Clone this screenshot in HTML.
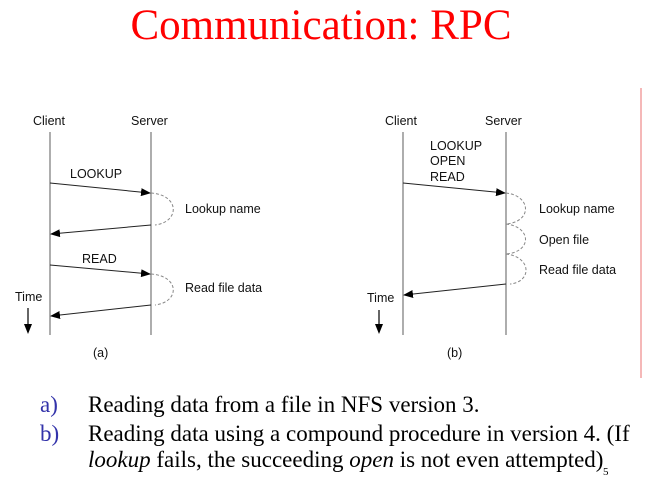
<!DOCTYPE html>
<html><head><style>
body{margin:0;width:662px;height:479px;background:#fff;overflow:hidden;position:relative;font-family:"Liberation Serif",serif}
.t{position:absolute;white-space:nowrap}
</style></head><body>
<div class="t" style="left:0;width:642px;text-align:center;top:1px;font-size:43px;line-height:50px;color:#f00">Communication: RPC</div>
<svg width="662" height="479" style="position:absolute;left:0;top:0" font-family="Liberation Sans, sans-serif" font-size="12.5" fill="#111">
<defs><marker id="a" markerWidth="10" markerHeight="8" refX="9" refY="4" orient="auto" markerUnits="userSpaceOnUse"><path d="M0,0 L10,4 L0,8 z" fill="#000"/></marker></defs>
<line x1="641" y1="88" x2="641" y2="378" stroke="#f2a0a0" stroke-width="1.5"/>
<g stroke="#777" stroke-width="1.2">
<line x1="50" y1="132" x2="50" y2="335"/><line x1="151" y1="132" x2="151" y2="335"/>
<line x1="403" y1="132" x2="403" y2="335"/><line x1="506" y1="132" x2="506" y2="335"/>
</g>
<g stroke="#222" stroke-width="1" fill="none" marker-end="url(#a)">
<line x1="50" y1="183" x2="150" y2="193"/>
<line x1="151" y1="225" x2="51" y2="234"/>
<line x1="50" y1="265" x2="150" y2="274"/>
<line x1="151" y1="305" x2="51" y2="316"/>
<line x1="403" y1="183" x2="505" y2="193"/>
<line x1="506" y1="284" x2="404" y2="295"/>
</g>
<g stroke="#888" stroke-width="1" fill="none" stroke-dasharray="3,2">
<path d="M151,193 C180,195 180,222 155,225"/>
<path d="M151,274 C180,276 180,302 155,305"/>
<path d="M506,193 C532,196 532,222 506,224"/>
<path d="M506,224 C532,227 532,252 506,254"/>
<path d="M506,254 C532,257 532,282 510,284"/>
</g>
<g stroke="#000" stroke-width="1.2"><line x1="28" y1="308" x2="28" y2="325"/><line x1="379" y1="310" x2="379" y2="325"/></g>
<path d="M24,324 L32,324 L28,334 z M375,324 L383,324 L379,334 z" fill="#000"/>
<text x="33" y="125">Client</text><text x="131" y="125">Server</text>
<text x="70" y="178">LOOKUP</text><text x="82" y="263">READ</text>
<text x="185" y="213">Lookup name</text><text x="185" y="292">Read file data</text>
<text x="15" y="301">Time</text><text x="93" y="357">(a)</text>
<text x="385" y="125">Client</text><text x="485" y="125">Server</text>
<text x="430" y="150">LOOKUP</text><text x="430" y="165">OPEN</text><text x="430" y="181">READ</text>
<text x="539" y="213">Lookup name</text><text x="539" y="244">Open file</text><text x="539" y="274">Read file data</text>
<text x="367" y="302">Time</text><text x="447" y="357">(b)</text>
</svg>
<div class="t" style="left:40px;top:392px;font-size:23px;line-height:26px;color:#3333aa">a)</div>
<div class="t" style="left:88px;top:392px;font-size:23px;line-height:26px">Reading data from a file in NFS version 3.</div>
<div class="t" style="left:40px;top:421px;font-size:23px;line-height:26px;color:#3333aa">b)</div>
<div class="t" style="left:88px;top:421px;font-size:23px;line-height:26px">Reading data using a compound procedure in version 4. (If</div>
<div class="t" style="left:88px;top:447px;font-size:23px;line-height:26px"><i>lookup</i> fails, the succeeding <i>open</i> is not even attempted)</div>
<div class="t" style="left:603px;top:466px;font-size:11px;line-height:12px">5</div>
</body></html>
